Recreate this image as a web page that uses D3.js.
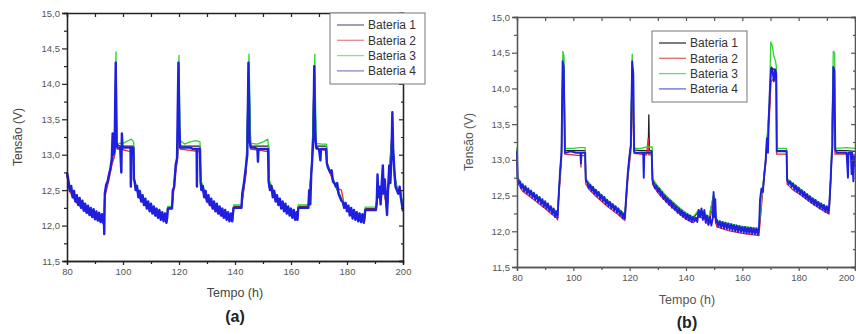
<!DOCTYPE html>
<html>
<head>
<meta charset="utf-8">
<script src="https://cdn.jsdelivr.net/npm/d3@7"></script>
<style>
  body { margin: 0; background: #fff; }
  svg { display: block; font-family: "Liberation Sans", Arial, sans-serif; }
</style>
</head>
<body>
<svg id="chart" width="856" height="334"></svg>
<script>
// tick labels / categories
const seriesNames = ["Bateria 1", "Bateria 2", "Bateria 3", "Bateria 4"];
const xTicks = [80, 100, 120, 140, 160, 180, 200];
const xMinor = [90, 110, 130, 150, 170, 190];
const yTicks = [11.5, 12.0, 12.5, 13.0, 13.5, 14.0, 14.5, 15.0];
const yMinor = [11.75, 12.25, 12.75, 13.25, 13.75, 14.25, 14.75];

// panel (a) - [tempo (h), tensão (V)]
const bat1A = [[80,12.72],[81,12.52],[83,12.38],[86,12.25],[89,12.16],[92,12.09],[93.2,12.07],[93.5,12.45],[95,12.7],[96,12.9],[97,13.0],[97.4,14.2],[97.8,13.15],[99,13.12],[101,13.12],[103,13.12],[103.8,13.12],[104.1,12.62],[106,12.42],[109,12.27],[112,12.17],[115.7,12.08],[116,12.25],[117.5,12.25],[118.5,12.7],[119.5,13.0],[119.9,14.25],[120.4,13.12],[124,13.12],[127.5,13.12],[127.8,12.6],[130,12.38],[133,12.24],[136,12.14],[139.1,12.08],[139.5,12.27],[142.3,12.27],[144,12.8],[144.9,14.25],[145.6,13.12],[149,13.12],[152,13.12],[152.2,12.6],[155,12.38],[158,12.24],[162.3,12.1],[162.6,12.27],[166.2,12.27],[167.5,12.9],[168.3,14.2],[169,13.12],[172.7,13.12],[173,12.85],[175,12.65],[177,12.45],[179,12.3],[182,12.17],[186.2,12.09],[186.5,12.24],[190.3,12.24],[191,12.5],[192,12.4],[193,12.6],[194.3,12.2],[195.2,12.8],[196.2,13.4],[197,12.7],[198,12.5],[199,12.5],[200,12.25]];
const bat2A = [[80,12.7],[81,12.48],[83,12.34],[86,12.22],[89,12.13],[92,12.06],[93.2,12.04],[93.5,12.4],[95,12.65],[96,12.85],[97,12.98],[97.5,13.9],[97.9,13.08],[100,13.07],[102,13.05],[103.8,13.04],[104.1,12.58],[106,12.38],[109,12.24],[112,12.14],[115.7,12.06],[116,12.24],[117.5,12.24],[118.5,12.65],[119.5,12.95],[120,13.4],[120.4,13.08],[124,13.06],[127.5,13.04],[127.8,12.55],[130,12.34],[133,12.21],[136,12.12],[139.1,12.06],[139.5,12.26],[142.3,12.26],[144,12.75],[145,13.8],[145.6,13.08],[149,13.06],[152,13.04],[152.2,12.55],[155,12.34],[158,12.21],[162.3,12.08],[162.6,12.26],[166.2,12.26],[167.5,12.85],[168.4,13.6],[169,13.08],[172.7,13.06],[173,12.85],[175,12.62],[177,12.52],[178,12.5],[179,12.3],[182,12.15],[186.2,12.07],[186.5,12.23],[190.3,12.23],[191,12.45],[192,12.35],[193,12.55],[194.3,12.2],[195.2,12.75],[196.2,13.2],[197,12.65],[198,12.48],[199,12.48],[200,12.22]];
const bat3A = [[80,12.74],[81,12.54],[83,12.4],[86,12.27],[89,12.18],[92,12.11],[93.2,12.09],[93.5,12.47],[95,12.72],[96,12.92],[97,13.02],[97.5,14.45],[97.9,13.16],[100,13.16],[102,13.2],[103,13.22],[103.8,13.18],[104.1,12.64],[106,12.44],[109,12.29],[112,12.19],[115.7,12.1],[116,12.27],[117.5,12.27],[118.5,12.72],[119.5,13.02],[120,14.4],[120.4,13.2],[122,13.15],[124,13.18],[126,13.2],[127.5,13.18],[127.8,12.64],[130,12.4],[133,12.26],[136,12.16],[139.1,12.1],[139.5,12.29],[142.3,12.29],[144,12.82],[145,14.42],[145.6,13.16],[148,13.15],[150,13.18],[151.7,13.22],[152,13.1],[152.2,12.64],[155,12.4],[158,12.26],[162.3,12.12],[162.6,12.29],[166.2,12.29],[167.5,12.92],[168.5,14.42],[169,13.16],[171,13.15],[172.7,13.15],[173,12.88],[175,12.67],[177,12.47],[179,12.32],[182,12.19],[186.2,12.11],[186.5,12.26],[190.3,12.26],[191,12.52],[192,12.42],[193,12.62],[194.3,12.22],[195.2,12.82],[196.2,13.3],[197,12.72],[198,12.52],[199,12.52],[200,12.27]];
const bat4A = [[80,12.75],[80.5,12.64],[81,12.49],[81.5,12.56],[82,12.40],[82.5,12.49],[83,12.34],[83.5,12.43],[84,12.29],[84.5,12.39],[85,12.25],[85.5,12.35],[86,12.21],[86.5,12.31],[87,12.18],[87.5,12.28],[88,12.15],[88.5,12.25],[89,12.12],[89.5,12.23],[90,12.09],[90.5,12.20],[91,12.07],[91.5,12.18],[92,12.05],[92.5,12.16],[93,12.03],[93.2,12.12],
  [93.3,11.88],[93.5,12.45],[94,12.58],[94.5,12.62],[95,12.72],[95.5,12.8],[96,12.95],[96.3,13.3],[96.6,13.0],[97,13.05],[97.4,14.3],[97.7,13.15],[98,13.1],[99,13.1],[99.4,12.75],[99.6,13.3],[99.8,13.1],[101,13.1],[102,13.1],[102.7,13.1],[102.8,12.55],[102.9,13.1],[103.7,13.1],[103.9,12.65],
  [104.2,12.62],[104.5,12.5],[105,12.56],[105.5,12.4],[106,12.49],[106.5,12.34],[107,12.43],[107.5,12.29],[108,12.38],[108.5,12.24],[109,12.34],[109.5,12.2],[110,12.31],[110.5,12.17],[111,12.27],[111.5,12.14],[112,12.24],[112.5,12.11],[113,12.22],[113.5,12.08],[114,12.19],[114.5,12.06],[115,12.17],[115.5,12.04],[115.8,12.12],
  [116,12.24],[117.5,12.24],[117.8,12.5],[118.3,12.55],[118.8,12.85],[119.3,12.95],[119.8,14.3],[120.1,13.4],[120.4,13.1],[122,13.1],[124,13.1],[125,13.08],[126.3,13.08],[126.4,12.55],[126.5,13.08],[127.5,13.08],[127.7,12.62],
  [128,12.5],[128.5,12.56],[129,12.4],[129.5,12.49],[130,12.34],[130.5,12.43],[131,12.29],[131.5,12.38],[132,12.24],[132.5,12.34],[133,12.2],[133.5,12.31],[134,12.17],[134.5,12.27],[135,12.14],[135.5,12.24],[136,12.11],[136.5,12.22],[137,12.08],[137.5,12.19],[138,12.06],[138.5,12.17],[139,12.06],[139.2,12.14],
  [139.5,12.25],[142.3,12.25],[142.6,12.45],[143.2,12.6],[143.8,12.8],[144.4,13.0],[144.8,14.3],[145.2,13.2],[145.6,13.1],[147,13.1],[148,13.08],[148.2,12.9],[148.4,13.08],[150,13.08],[151.8,13.08],[152,12.62],
  [152.5,12.5],[153,12.56],[153.5,12.4],[154,12.49],[154.5,12.34],[155,12.43],[155.5,12.29],[156,12.38],[156.5,12.24],[157,12.34],[157.5,12.2],[158,12.31],[158.5,12.17],[159,12.27],[159.5,12.14],[160,12.24],[160.5,12.11],[161,12.22],[161.5,12.08],[162,12.19],[162.3,12.08],
  [162.6,12.25],[166.2,12.25],[166.5,12.5],[166.9,12.3],[167.2,12.7],[167.6,12.95],[168,13.25],[168.3,14.25],[168.6,13.3],[169,13.1],[170,13.08],[170.5,12.92],[170.7,13.08],[172.5,13.08],[172.8,12.88],
  [173.2,12.82],[174,12.75],[174.5,12.78],[175,12.62],[175.5,12.6],[176,12.55],[176.5,12.6],[177,12.45],[177.5,12.4],[178,12.35],[178.5,12.33],[179,12.25],[179.5,12.32],[180,12.2],[180.5,12.28],[181,12.14],[181.5,12.25],[182,12.1],[182.5,12.22],[183,12.08],[183.5,12.19],[184,12.06],[184.5,12.17],[185,12.05],[185.5,12.16],[186,12.04],[186.3,12.12],
  [186.5,12.22],[190.3,12.22],[190.6,12.3],[190.9,12.72],[191.2,12.4],[191.6,12.55],[192,12.3],[192.4,12.6],[192.8,12.85],[193.1,12.45],[193.5,12.65],[193.9,12.4],[194.3,12.15],[194.7,12.55],[195.1,12.85],[195.5,12.6],[195.9,13.0],[196.2,13.6],[196.5,13.05],[196.9,12.8],[197.3,12.55],[197.8,12.5],[198.3,12.45],[198.8,12.55],[199.2,12.4],[199.6,12.3],[200,12.2]];

// panel (b)
const bat1B = [[80,13.15],[80.2,12.74],[82,12.63],[84,12.57],[86,12.51],[88,12.45],[90,12.39],[92,12.32],[94,12.26],[94.4,12.22],[94.8,12.5],[95.8,13.1],[96.3,14.35],[96.7,14.25],[97,13.13],[100,13.13],[104.2,13.13],[104.4,12.72],[106,12.64],[108,12.56],[110,12.49],[112,12.42],[114,12.36],[116,12.3],[118.3,12.22],[119.5,12.85],[120.4,13.2],[120.9,14.35],[121.5,13.14],[124,13.13],[126.6,13.13],[126.8,13.63],[127,13.13],[128,13.13],[128.1,12.72],[130,12.61],[132,12.52],[134,12.44],[136,12.37],[138,12.3],[140,12.24],[142.5,12.18],[144.5,12.28],[146.5,12.25],[148,12.15],[149.8,12.5],[150.5,12.2],[151,12.13],[155,12.09],[160,12.05],[165.9,12.02],[167,12.5],[168.3,13.0],[169.6,13.7],[170.2,14.3],[171.5,14.25],[172.1,14.2],[172.2,13.13],[175.7,13.13],[175.9,12.72],[178,12.65],[181,12.56],[184,12.47],[187,12.39],[190.8,12.3],[191.6,12.9],[192.3,14.3],[192.9,13.13],[197,13.13],[200,13.12]];
const bat2B = [[80,13.1],[80.2,12.68],[82,12.56],[84,12.5],[86,12.44],[88,12.38],[90,12.32],[92,12.25],[94,12.19],[94.4,12.16],[94.8,12.45],[95.8,13.0],[96.3,14.15],[96.7,14.1],[97,13.08],[100,13.07],[102.6,13.06],[102.7,12.9],[102.8,13.06],[104.2,13.06],[104.4,12.66],[106,12.57],[108,12.49],[110,12.42],[112,12.35],[114,12.29],[116,12.23],[118.3,12.15],[119.5,12.8],[120.4,13.1],[120.9,14.15],[121.5,13.09],[124,13.08],[126,13.07],[126.6,13.3],[126.8,13.07],[128,13.07],[128.1,12.66],[130,12.54],[132,12.45],[134,12.37],[136,12.3],[138,12.23],[140,12.17],[142.5,12.12],[144.5,12.2],[146.5,12.18],[148,12.08],[149.8,12.4],[150.5,12.12],[151,12.06],[155,12.01],[160,11.97],[165.9,11.94],[167,12.45],[168.3,12.95],[169.6,13.6],[170.2,14.1],[171.5,14.15],[172.1,14.1],[172.2,13.08],[175.7,13.08],[175.9,12.66],[178,12.58],[181,12.5],[184,12.41],[187,12.33],[190.8,12.24],[191.6,12.85],[192.3,14.1],[192.9,13.08],[197,13.08],[200,13.07]];
const bat3B = [[80,13.18],[80.2,12.76],[82,12.65],[84,12.59],[86,12.53],[88,12.47],[90,12.41],[92,12.34],[94,12.28],[94.4,12.24],[94.8,12.52],[95.8,13.12],[96.3,14.52],[96.7,14.45],[97,13.16],[100,13.16],[102,13.17],[104.2,13.17],[104.4,12.74],[106,12.66],[108,12.58],[110,12.51],[112,12.44],[114,12.38],[116,12.32],[118.3,12.24],[119.5,12.87],[120.4,13.22],[120.9,14.48],[121.5,13.16],[124,13.16],[126,13.18],[128,13.18],[128.1,12.74],[130,12.63],[132,12.54],[134,12.46],[136,12.39],[138,12.32],[140,12.26],[142.5,12.2],[144.5,12.3],[146.5,12.27],[148,12.17],[149.8,12.52],[150.5,12.22],[151,12.15],[155,12.11],[160,12.07],[165.9,12.04],[167,12.52],[168.3,13.02],[169.6,13.8],[170.1,14.65],[170.6,14.6],[171.2,14.45],[171.8,14.38],[172.1,14.3],[172.2,13.16],[175.7,13.16],[175.9,12.74],[178,12.67],[181,12.58],[184,12.49],[187,12.41],[190.8,12.32],[191.6,12.92],[192.3,14.52],[192.8,14.5],[192.9,13.16],[197,13.17],[200,13.16]];
const bat4B = [[80,13.12],[80.2,12.75],[80.5,12.66],[81,12.7],[81.5,12.6],[82,12.66],[82.5,12.56],[83,12.63],[83.5,12.53],[84,12.6],[84.5,12.5],[85,12.57],[85.5,12.47],[86,12.54],[86.5,12.44],[87,12.51],[87.5,12.41],[88,12.48],[88.5,12.38],[89,12.45],[89.5,12.34],[90,12.42],[90.5,12.31],[91,12.39],[91.5,12.28],[92,12.35],[92.5,12.24],[93,12.32],[93.5,12.2],[94,12.28],[94.4,12.19],
  [94.8,12.5],[95.3,12.85],[95.8,13.1],[96.2,14.38],[96.6,14.3],[97,13.1],[97.5,13.1],[99,13.12],[101,13.1],[102.5,13.1],[102.7,12.95],[102.9,13.1],[104.2,13.1],[104.4,12.72],
  [105,12.68],[105.5,12.6],[106,12.65],[106.5,12.56],[107,12.62],[107.5,12.52],[108,12.58],[108.5,12.49],[109,12.55],[109.5,12.45],[110,12.51],[110.5,12.42],[111,12.48],[111.5,12.38],[112,12.44],[112.5,12.35],[113,12.41],[113.5,12.32],[114,12.38],[114.5,12.29],[115,12.35],[115.5,12.26],[116,12.32],[116.5,12.22],[117,12.28],[117.5,12.18],[118,12.25],[118.3,12.18],
  [118.7,12.45],[119.3,12.8],[119.9,13.05],[120.4,13.2],[120.9,14.38],[121.3,14.2],[121.6,13.12],[122,13.1],[124,13.1],[124.8,13.1],[125,12.75],[125.2,13.1],[127,13.1],[127.5,13.1],[127.8,13.12],[128.1,12.72],
  [128.5,12.66],[129,12.6],[129.5,12.64],[130,12.55],[130.5,12.6],[131,12.5],[131.5,12.55],[132,12.45],[132.5,12.5],[133,12.41],[133.5,12.46],[134,12.37],[134.5,12.43],[135,12.33],[135.5,12.39],[136,12.3],[136.5,12.35],[137,12.26],[137.5,12.32],[138,12.23],[138.5,12.29],[139,12.2],[139.5,12.26],[140,12.17],[140.5,12.24],[141,12.15],[141.5,12.22],[142,12.13],[142.5,12.2],[143,12.14],[143.5,12.19],[144,12.13],[144.5,12.3],[145,12.2],[145.5,12.32],[146,12.16],[146.5,12.3],[147,12.12],[147.5,12.22],[148,12.1],[148.5,12.2],[149,12.08],[149.5,12.18],[149.8,12.55],[150.1,12.2],[150.4,12.45],[150.7,12.12],[151,12.16],
  [151.5,12.06],[152,12.14],[152.5,12.05],[153,12.13],[153.5,12.04],[154,12.12],[154.5,12.03],[155,12.11],[155.5,12.02],[156,12.1],[156.5,12.01],[157,12.09],[157.5,12.0],[158,12.08],[158.5,11.99],[159,12.07],[159.5,11.99],[160,12.06],[160.5,11.98],[161,12.06],[161.5,11.97],[162,12.05],[162.5,11.97],[163,12.05],[163.5,11.96],[164,12.04],[164.5,11.96],[165,12.04],[165.5,11.95],[165.9,12.03],
  [166.3,12.45],[166.8,12.6],[167.3,12.55],[167.8,12.8],[168.3,13.0],[168.7,13.3],[169.1,13.1],[169.4,13.6],[169.8,14.0],[170.2,14.28],[170.7,14.25],[171.2,14.1],[171.6,14.27],[172,14.22],[172.2,13.12],[173,13.12],[175,13.12],[175.7,13.12],[175.9,12.72],
  [176.5,12.66],[177,12.7],[177.5,12.62],[178,12.67],[178.5,12.58],[179,12.64],[179.5,12.55],[180,12.61],[180.5,12.52],[181,12.58],[181.5,12.49],[182,12.55],[182.5,12.46],[183,12.52],[183.5,12.43],[184,12.49],[184.5,12.4],[185,12.46],[185.5,12.37],[186,12.44],[186.5,12.35],[187,12.41],[187.5,12.32],[188,12.39],[188.5,12.3],[189,12.37],[189.5,12.27],[190,12.35],[190.5,12.26],[190.8,12.33],
  [191.2,12.6],[191.6,12.95],[192,13.2],[192.3,14.3],[192.7,14.25],[193,13.15],[193.5,13.1],[195,13.1],[197,13.1],[197.5,12.75],[197.7,13.1],[198.5,13.1],[198.8,12.8],[199,13.1],[199.4,12.7],[199.7,13.05],[200,12.9]];

const svg = d3.select("#chart");
const fmt = d => d.toFixed(1).replace(".", ",");

function drawPanel(p) {
  const x = d3.scaleLinear().domain([80, 200]).range([p.left, p.right]);
  const y = d3.scaleLinear().domain([11.5, 15]).range([p.bottom, p.top]);
  const g = svg.append("g");

  const line = d3.line().x(d => x(d[0])).y(d => y(d[1]));
  p.series.forEach((s, i) => {
    g.append("path")
      .attr("d", line(s))
      .attr("fill", "none")
      .attr("stroke", p.colors[i])
      .attr("stroke-width", i == 3 ? p.blueWidth : 1.3)
      .attr("stroke-linejoin", "round");
  });

  // axes
  const ax = (gen, tr) => g.append("g").attr("transform", tr).call(gen);
  const styleAxis = sel => {
    sel.select(".domain").attr("stroke", p.axisColor).attr("stroke-width", 1.3);
    sel.selectAll(".tick line").attr("stroke", p.axisColor).attr("stroke-width", 1.2);
    sel.selectAll("text").attr("fill", p.tickText).style("font-size", "9.5px");
    return sel;
  };
  styleAxis(ax(d3.axisLeft(y).tickValues(yTicks).tickFormat(fmt).tickSize(5).tickPadding(2), `translate(${p.left},0)`));
  styleAxis(ax(d3.axisLeft(y).tickValues(yMinor).tickFormat("").tickSize(3), `translate(${p.left},0)`));
  const xa = styleAxis(ax(d3.axisBottom(x).tickValues(xTicks).tickFormat(d3.format("d")).tickSize(4).tickPadding(3), `translate(0,${p.bottom})`));
  // keep the last label inside the window
  if (p.right > 850) xa.selectAll(".tick text").filter(d => d === 200).attr("text-anchor", "end").attr("dx", "-0.1em");
  styleAxis(ax(d3.axisBottom(x).tickValues(xMinor).tickFormat("").tickSize(3), `translate(0,${p.bottom})`));
  styleAxis(ax(d3.axisBottom(x).tickValues(xTicks.concat(xMinor)).tickFormat("").tickSize(4), `translate(0,${p.top})`));
  styleAxis(ax(d3.axisRight(y).tickValues(yTicks).tickFormat("").tickSize(-4), `translate(${p.right},0)`));
  styleAxis(ax(d3.axisRight(y).tickValues(yMinor).tickFormat("").tickSize(-2), `translate(${p.right},0)`));

  // titles
  g.append("text")
    .attr("transform", `translate(${p.yTitleX},${(p.top + p.bottom) / 2}) rotate(-90)`)
    .attr("text-anchor", "middle").attr("dy", "0.35em")
    .attr("fill", p.titleColor).style("font-size", "12px")
    .text("Tensão (V)");
  g.append("text")
    .attr("x", p.titleX).attr("y", p.xTitleY)
    .attr("text-anchor", "middle").attr("dy", "0.35em")
    .attr("fill", p.titleColor).style("font-size", "12.5px")
    .text("Tempo (h)");
  g.append("text")
    .attr("x", p.titleX).attr("y", p.tagY)
    .attr("text-anchor", "middle").attr("dy", "0.35em")
    .attr("fill", "#222").style("font-size", "16px").style("font-weight", "bold")
    .text(p.tag);

  // legend
  const lg = g.append("g").attr("transform", `translate(${p.legX},${p.legY})`);
  lg.append("rect").attr("width", 95).attr("height", 71)
    .attr("fill", "#fff").attr("stroke", "#777").attr("stroke-width", 1);
  seriesNames.forEach((name, i) => {
    const yy = 12 + i * 15.3;
    lg.append("line").attr("x1", 7).attr("x2", 34).attr("y1", yy).attr("y2", yy)
      .attr("stroke", p.legColors[i]).attr("stroke-width", 1.3);
    lg.append("text").attr("x", 38).attr("y", yy).attr("dy", "0.36em")
      .attr("fill", "#333").style("font-size", "12px").text(name);
  });
}

drawPanel({
  left: 67, right: 403, top: 13, bottom: 261,
  series: [bat1A, bat2A, bat3A, bat4A],
  colors: ["#222", "#e02a2a", "#2fd42f", "#1f1fe0"],
  legColors: ["#6a6f88", "#e88a8a", "#8fdc9a", "#8a84c8"],
  blueWidth: 2.4,
  axisColor: "#222", tickText: "#555", titleColor: "#444",
  yTitleX: 18, titleX: 235, xTitleY: 293, tagY: 316, tag: "(a)",
  legX: 330, legY: 13
});
drawPanel({
  left: 517, right: 855, top: 17, bottom: 267,
  series: [bat1B, bat2B, bat3B, bat4B],
  colors: ["#222", "#e02a2a", "#2fd42f", "#1f1fe0"],
  legColors: ["#333", "#e06a6a", "#6ad86a", "#6a6ae0"],
  blueWidth: 1.9,
  axisColor: "#555", tickText: "#555", titleColor: "#555",
  yTitleX: 469, titleX: 687, xTitleY: 300, tagY: 322, tag: "(b)",
  legX: 652, legY: 31
});
</script>
</body>
</html>
